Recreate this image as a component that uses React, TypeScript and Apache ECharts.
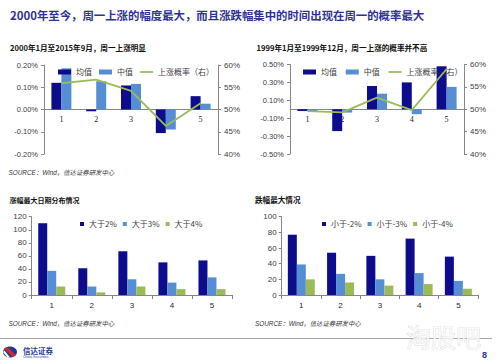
import React, { useEffect, useRef } from "react";
import * as echarts from "echarts";

const categories = ["1", "2", "3", "4", "5"];
// chart 1: 2000.1 - 2015.9 (percent units)
const c1Mean = [0.12, -0.008, 0.108, -0.106, 0.06];
const c1Median = [0.185, 0.127, 0.115, -0.09, 0.026];
const c1Prob = [55.9, 56.7, 54.2, 46.3, 51.4];
// chart 2: 1999.1 - 1999.12
const c2Mean = [-0.02, -0.244, 0.26, 0.3, 0.48];
const c2Median = [-0.02, -0.037, 0.174, -0.055, 0.25];
const c2Prob = [49.6, 49.3, 52.6, 49.8, 59.0];
// chart 3: largest rises
const upGt2 = [110, 41, 67, 50, 53];
const upGt3 = [37, 13, 24, 19, 27];
const upGt4 = [13, 4, 13, 9, 9];
// chart 4: largest falls
const dnLt2 = [77, 54, 50, 72, 49];
const dnLt3 = [39, 27, 20, 28, 18];
const dnLt4 = [20, 16, 12, 14, 8];

const NAVY = "#0C0C8C";
const LBLUE = "#558ED5";
const GREEN = "#9BBB59";
const AXIS = "#868686";
const LABEL = "#404040";
const SANS = "'Liberation Sans', Arial, 'Noto Sans CJK SC', sans-serif";
const CJK = "'Noto Sans CJK SC', 'Liberation Sans', sans-serif";
const LINE_ICON = "path://M0,0H30V4H0Z";

export default function App() {
  const ref = useRef<HTMLDivElement>(null);
  useEffect(() => {
    if (!ref.current) return;
    const chart = echarts.init(ref.current, undefined, { renderer: "svg" });
    const axisLine = { show: true, lineStyle: { color: AXIS, width: 1 } };
    const pctLabel = (d: number) => (v: number) => v.toFixed(d) + "%";
    const leftPctAxis = (gi: number, min: number, max: number, interval: number) => ({
      type: "value", gridIndex: gi, min, max, interval, position: "left",
      axisLine, axisTick: { show: true, length: 3, lineStyle: { color: AXIS } },
      splitLine: { show: false },
      axisLabel: { formatter: pctLabel(2), fontSize: 7.5, color: LABEL, margin: 6, fontFamily: SANS },
    });
    const rightProbAxis = (gi: number) => ({
      type: "value", gridIndex: gi, min: 40, max: 60, interval: 5, position: "right",
      axisLine, axisTick: { show: true, length: 3, lineStyle: { color: AXIS } },
      splitLine: { show: false },
      axisLabel: { formatter: pctLabel(0), fontSize: 8, color: LABEL, margin: 6, fontFamily: SANS },
    });
    const countAxis = (gi: number, max: number) => ({
      type: "value", gridIndex: gi, min: 0, max, interval: 20,
      axisLine, axisTick: { show: true, length: 3, lineStyle: { color: AXIS } },
      splitLine: { show: false },
      axisLabel: { fontSize: 8, color: LABEL, margin: 5, fontFamily: SANS },
    });
    const catAxis = (gi: number, offset: number, serif: boolean, ticks: boolean) => ({
      type: "category", gridIndex: gi, data: categories, position: "bottom", offset,
      axisLine: { show: true, onZero: false, lineStyle: { color: AXIS } },
      axisTick: { show: ticks, length: 4, interval: 0, lineStyle: { color: AXIS } },
      axisLabel: { fontSize: 8, color: "#262626", margin: 6, fontFamily: serif ? "'Liberation Serif', serif" : SANS },
    });
    const bar = (name: string, data: number[], color: string, xi: number, yi: number, w: number) => ({
      type: "bar", name, data, xAxisIndex: xi, yAxisIndex: yi, barWidth: w, barGap: "0%",
      itemStyle: { color }, z: 2,
    });
    const line = (name: string, data: number[], xi: number, yi: number) => ({
      type: "line", name, data, xAxisIndex: xi, yAxisIndex: yi, symbol: "none",
      lineStyle: { color: GREEN, width: 1.8 }, itemStyle: { color: GREEN }, z: 5,
    });
    const legendText = { fontSize: 8, color: LABEL, fontFamily: CJK };
    const txt = (text: string, x: number, y: number, font: string, fill: string, align = "left") => ({
      type: "text", x, y, silent: true,
      style: { text, font, fill, align, verticalAlign: "middle" },
    });

    const option: any = {
      animation: false,
      backgroundColor: "#ffffff",
      grid: [
        { left: 44, right: 281, top: 65, bottom: 210 },
        { left: 290, right: 35, top: 64.5, bottom: 210 },
        { left: 31.7, right: 267, top: 216.7, bottom: 69 },
        { left: 281.7, right: 21, top: 216.7, bottom: 69 },
      ],
      xAxis: [
        catAxis(0, -44.5, true, false),
        catAxis(1, -44.75, true, false),
        catAxis(2, 0, false, true),
        catAxis(3, 0, false, true),
      ],
      yAxis: [
        leftPctAxis(0, -0.2, 0.2, 0.1),
        rightProbAxis(0),
        leftPctAxis(1, -0.5, 0.5, 0.2),
        rightProbAxis(1),
        countAxis(2, 120),
        countAxis(3, 100),
      ],
      legend: [
        {
          left: 53, top: 63, itemWidth: 13, itemHeight: 5, itemGap: 7, textStyle: legendText,
          data: [{ name: "均值", icon: "rect" }, { name: "中值", icon: "rect" }, { name: "上涨概率（右）", icon: LINE_ICON }],
        },
        {
          left: 298, top: 63, itemWidth: 13, itemHeight: 5, itemGap: 7, textStyle: legendText,
          data: [{ name: "均值 ", icon: "rect" }, { name: "中值 ", icon: "rect" }, { name: "上涨概率（右） ", icon: LINE_ICON }],
        },
        {
          left: 75, top: 215, itemWidth: 4, itemHeight: 4, itemGap: 6, textStyle: legendText,
          data: [{ name: "大于2%", icon: "rect" }, { name: "大于3%", icon: "rect" }, { name: "大于4%", icon: "rect" }],
        },
        {
          left: 317, top: 215, itemWidth: 4, itemHeight: 4, itemGap: 6, textStyle: legendText,
          data: [{ name: "小于-2%", icon: "rect" }, { name: "小于-3%", icon: "rect" }, { name: "小于-4%", icon: "rect" }],
        },
      ],
      series: [
        bar("均值", c1Mean, NAVY, 0, 0, 10),
        bar("中值", c1Median, LBLUE, 0, 0, 10),
        line("上涨概率（右）", c1Prob, 0, 1),
        bar("均值 ", c2Mean, NAVY, 1, 2, 10),
        bar("中值 ", c2Median, LBLUE, 1, 2, 10),
        line("上涨概率（右） ", c2Prob, 1, 3),
        bar("大于2%", upGt2, NAVY, 2, 4, 9),
        bar("大于3%", upGt3, LBLUE, 2, 4, 9),
        bar("大于4%", upGt4, GREEN, 2, 4, 9),
        bar("小于-2%", dnLt2, NAVY, 3, 5, 9),
        bar("小于-3%", dnLt3, LBLUE, 3, 5, 9),
        bar("小于-4%", dnLt4, GREEN, 3, 5, 9),
      ],
      graphic: [
        txt("2000年至今，周一上涨的幅度最大，而且涨跌幅集中的时间出现在周一的概率最大", 10, 15,
          `bold 11.4px ${CJK}`, "#2E3192"),
        txt("2000年1月至2015年9月，周一上涨明显", 10, 47.5, `bold 7.6px ${CJK}`, "#111111"),
        txt("1999年1月至1999年12月，周一上涨的概率并不高", 256.5, 47.5, `bold 7.6px ${CJK}`, "#111111"),
        txt("涨幅最大日期分布情况", 9.5, 199.5, `bold 7px ${CJK}`, "#111111"),
        txt("跌幅最大情况", 255, 199.5, `bold 7.6px ${CJK}`, "#111111"),
        txt("SOURCE：Wind，信达证券研发中心", 8.5, 172.5, `italic 6.4px ${SANS}`, "#333333"),
        txt("SOURCE：Wind，信达证券研发中心", 8.5, 323, `italic 6.4px ${SANS}`, "#333333"),
        txt("SOURCE：Wind，信达证券研发中心", 255, 323, `italic 6.4px ${SANS}`, "#333333"),
        { type: "line", silent: true, shape: { x1: 0, y1: 338.5, x2: 492, y2: 338.5 }, style: { stroke: "#A6A6A6", lineWidth: 1 } },
        {
          type: "text", x: 443.5, y: 336, silent: true, z: 10,
          style: { text: "淘股吧", font: `25px ${CJK}`, fill: "rgba(255,255,255,0.75)", stroke: "#D0D0D0", lineWidth: 0.6, align: "center", verticalAlign: "middle" },
        },
        {
          type: "group", x: 3, y: 346, silent: true,
          children: [
            { type: "ellipse", shape: { cx: 7, cy: 6, rx: 7, ry: 5.5 }, style: { fill: "#1F3C95" } },
            { type: "polygon", shape: { points: [[1, 2.5], [4, 1], [13, 9], [10, 11]] }, style: { fill: "#D7262E" } },
            { type: "polygon", shape: { points: [[0, 6], [1.5, 4.5], [7, 11.5], [4.5, 11.5]] }, style: { fill: "#ffffff" } },
          ],
        },
        txt("信达证券", 23, 350, `bold 7.5px ${CJK}`, "#1F3C95"),
        txt("China Securities", 23, 356.5, `3.5px ${SANS}`, "#1F3C95"),
        txt("8", 482, 355, `bold 9px ${SANS}`, "#2E3192"),
      ],
    };
    chart.setOption(option);
    return () => chart.dispose();
  }, []);
  return (
    <div
      ref={ref}
      style={{ position: "fixed", left: 0, top: 0, width: 499, height: 364, background: "#fff" }}
    />
  );
}
